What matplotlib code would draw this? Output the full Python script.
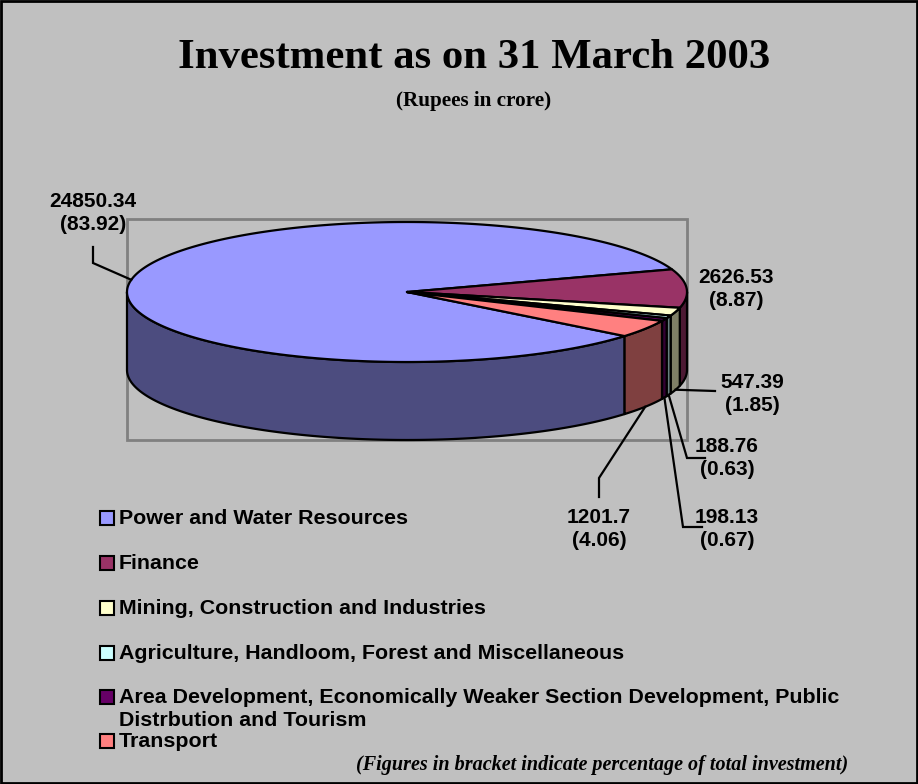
import numpy as np
import matplotlib
matplotlib.use("Agg")
import matplotlib.pyplot as plt
from matplotlib.patches import Polygon, Rectangle

# ---------------- data ----------------
categories = [
    "Power and Water Resources",
    "Finance",
    "Mining, Construction and Industries",
    "Agriculture, Handloom, Forest and Miscellaneous",
    "Area Development, Economically Weaker Section Development, Public\nDistrbution and Tourism",
    "Transport",
]
values = [24850.34, 2626.53, 547.39, 188.76, 198.13, 1201.7]
percents = [83.92, 8.87, 1.85, 0.63, 0.67, 4.06]
value_labels = ["24850.34", "2626.53", "547.39", "188.76", "198.13", "1201.7"]

top_colors = ["#9999FF", "#993366", "#FFFFCC", "#CCFFFF", "#660066", "#FF8080"]
side_colors = ["#4C4C7F", "#4C1933", "#7F7F66", "#667F7F", "#330033", "#7F4040"]

# ---------------- layout ----------------
W, H = 918, 784
cx, cy = 407, 292      # pie centre (pixels)
ra, rb = 280, 70       # ellipse semi-axes
depth = 78             # pie thickness
start = 321.0          # start angle (deg), clockwise
bg = "#C0C0C0"

fig = plt.figure(figsize=(W / 100, H / 100), dpi=100, facecolor=bg)
ax = fig.add_axes([0, 0, 1, 1])
ax.set_xlim(0, W)
ax.set_ylim(H, 0)
ax.axis("off")
ax.set_facecolor(bg)

# figure border
ax.add_patch(Rectangle((1, 1), W - 2, H - 2, fill=False, ec="black", lw=2, zorder=50))
# plot-area frame
ax.add_patch(Rectangle((127, 219), 560, 221, fill=False, ec="#808080", lw=2, zorder=1))

SANS = "Liberation Sans"
SERIF = "Liberation Serif"

ax.text(474, 58, "Investment as on 31 March 2003", ha="center", va="center",
        fontsize=30.8, fontweight="bold", family=SERIF)
ax.text(474, 101, "(Rupees in crore)", ha="center", va="center",
        fontsize=15.2, fontweight="bold", family=SERIF)

# ---------------- pie geometry ----------------
vals = np.array(values, dtype=float)
fr = vals / vals.sum()
spans = fr * 360.0
ends = start - np.cumsum(spans)
starts = ends + spans  # each slice goes from starts[i] down to ends[i]


def top_pt(t):
    r = np.radians(t)
    return cx + ra * np.cos(r), cy - rb * np.sin(r)


def bot_pt(t):
    x, y = top_pt(t)
    return x, y + depth


# side walls (visible where sin(theta) < 0, i.e. 180..360 mod 360)
for i in range(len(vals)):
    a1, a2 = ends[i], starts[i]  # a1 < a2
    for k in range(-2, 3):
        lo = max(a1, 180 + 360 * k)
        hi = min(a2, 360 + 360 * k)
        if hi > lo:
            ts = np.linspace(lo, hi, 120)
            topx, topy = top_pt(ts)
            botx, boty = bot_pt(ts[::-1])
            pts = np.column_stack([np.concatenate([topx, botx]), np.concatenate([topy, boty])])
            ax.add_patch(Polygon(pts, closed=True, fc=side_colors[i], ec="black",
                                 lw=1.6, joinstyle="round", zorder=3))

# top wedges
for i in range(len(vals)):
    ts = np.linspace(ends[i], starts[i], 400)
    x, y = top_pt(ts)
    pts = np.column_stack([np.concatenate([[cx], x]), np.concatenate([[cy], y])])
    ax.add_patch(Polygon(pts, closed=True, fc=top_colors[i], ec="black",
                         lw=1.6, joinstyle="round", zorder=4))

# ---------------- data labels ----------------
mids = (starts + ends) / 2.0
# label centre positions and leader bend points (layout)
label_pos = [(93, 213), (736, 289), (752, 394), (727, 458), (727, 529), (599, 529)]
leader_bends = [
    [(93, 263), (93, 247)],
    None,
    [(715, 391)],
    [(687, 458), (705, 458)],
    [(683, 527), (702, 527)],
    [(599, 478), (599, 497)],
]

for i in range(len(vals)):
    txt = f"{value_labels[i]}\n({percents[i]:.2f})"
    lx, ly = label_pos[i]
    ax.text(lx, ly, txt, ha="center", va="center", fontsize=15, fontweight="bold",
            family=SANS, linespacing=1.3, zorder=10)
    if leader_bends[i] is not None:
        m = mids[i] % 360
        if 180 < m < 360:
            ax0 = bot_pt(m)
        else:
            ax0 = top_pt(m)
        path = [ax0] + leader_bends[i]
        px = [p[0] for p in path]
        py = [p[1] for p in path]
        ax.plot(px, py, color="black", lw=1.6, zorder=6, solid_joinstyle="miter")

# ---------------- legend ----------------
leg_y = [518, 563, 608, 653, 697, 741]
for i, name in enumerate(categories):
    y = leg_y[i]
    ax.add_patch(Rectangle((100, y - 7), 14, 14, fc=top_colors[i], ec="black", lw=1.5, zorder=5))
    ax.text(119, y - 9, name, ha="left", va="top", fontsize=15.4, fontweight="bold",
            family=SANS, linespacing=1.3)

# footnote
ax.text(848, 765, "(Figures in bracket indicate percentage of total investment)",
        ha="right", va="center", fontsize=14.5, fontweight="bold", style="italic", family=SERIF)

fig.savefig("out.png", dpi=100, facecolor=bg)
